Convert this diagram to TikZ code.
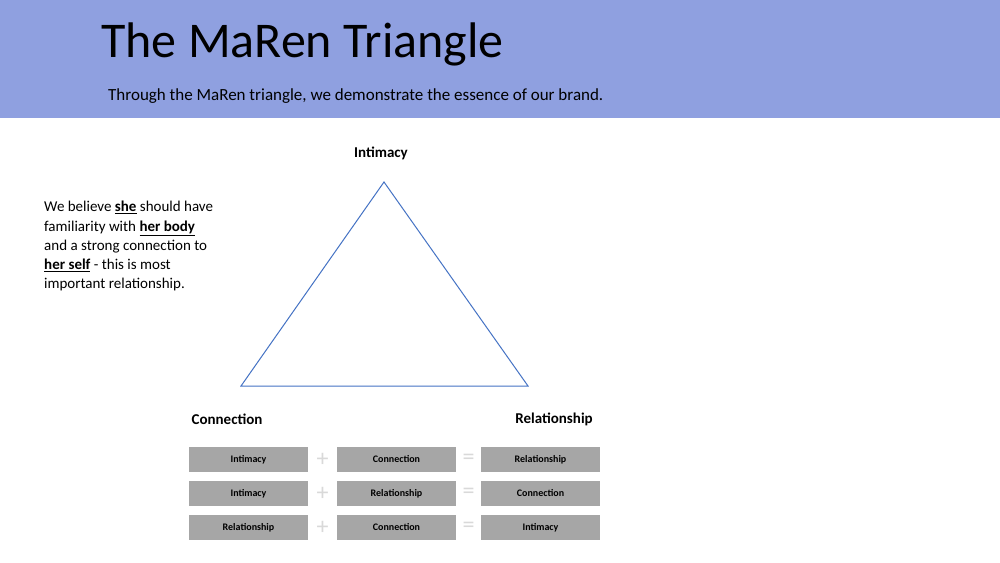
\documentclass[tikz,border=0pt]{standalone}
\usepackage{fontspec}
\setmainfont{Carlito}
\definecolor{band}{HTML}{8FA0E0}
\definecolor{tri}{HTML}{4472C4}
\definecolor{boxg}{HTML}{A6A6A6}
\definecolor{opg}{HTML}{D9D9D9}
\begin{document}
\begin{tikzpicture}[x=1pt,y=-1pt,
  cell/.style={fill=boxg,minimum width=119pt,minimum height=25pt,inner sep=0pt,font=\fontsize{10}{12}\selectfont\bfseries},
  op/.style={text=opg,font=\fontsize{24}{24}\selectfont,inner sep=0pt},
  lab/.style={font=\fontsize{15}{18}\selectfont\bfseries,inner sep=0pt}]
\useasboundingbox (0,0) rectangle (1000,562);
\fill[white] (0,0) rectangle (1000,562);
\fill[band] (0,0) rectangle (1000,118);
\node[anchor=base west,inner sep=0pt,font=\fontsize{50}{56}\selectfont] (title) at (101,57) {The MaRen Triangle};
\node[anchor=base west,inner sep=0pt,font=\fontsize{17}{20}\selectfont] (sub) at (108,100) {Through the MaRen triangle, we demonstrate the essence of our brand.};
\coordinate (A) at (384,182);
\coordinate (B) at (241,386);
\coordinate (C) at (528,386);
\draw[tri,line width=1pt] (A) -- (B) -- (C) -- cycle;
\node[lab] (li) at (381,153) {Intimacy};
\node[lab] (lc) at (227,419) {Connection};
\node[lab] (lr) at (554,419) {Relationship};
\node[anchor=north west,inner sep=0pt,align=left,font=\fontsize{15}{19.3}\selectfont] (txt) at (44,201)
 {We believe \underline{\textbf{she}} should have\\familiarity with \underline{\textbf{her body}}\\and a strong connection to\\\underline{\textbf{her self}} - this is most\\important relationship.};
\foreach \y/\a/\b/\c [count=\i] in {459.5/Intimacy/Connection/Relationship,493.5/Intimacy/Relationship/Connection,527.5/Relationship/Connection/Intimacy}{
  \node[cell] (a\i) at (248.5,\y) {\a};
  \node[cell] (b\i) at (396.5,\y) {\b};
  \node[cell] (c\i) at (540.5,\y) {\c};
  \node[op] (p\i) at (322.5,\y) {+};
  \node[op] (e\i) at (468.5,\y) {=};
}
\end{tikzpicture}
\end{document}
